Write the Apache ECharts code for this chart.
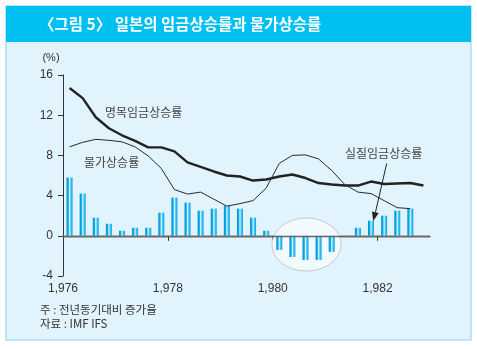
<!DOCTYPE html>
<html>
<head>
<meta charset="utf-8">
<script src="https://cdn.jsdelivr.net/npm/echarts@6/dist/echarts.min.js"></script>
<style>
html,body{margin:0;padding:0;background:#fff;}
#c{width:477px;height:349px;}
</style>
</head>
<body>
<div id="c"></div>
<script>
// Quarter mid-points (years)
const periods = [1976.125,1976.375,1976.625,1976.875,1977.125,1977.375,1977.625,1977.875,
  1978.125,1978.375,1978.625,1978.875,1979.125,1979.375,1979.625,1979.875,
  1980.125,1980.375,1980.625,1980.875,1981.125,1981.375,1981.625,1981.875,
  1982.125,1982.375,1982.625,1982.875];
// 명목임금상승률 (%)
const nominalWage = [14.7,13.7,11.8,10.7,10.0,9.45,8.8,8.8,8.4,7.3,6.85,6.4,6.0,5.9,5.5,5.6,
  5.9,6.1,5.75,5.25,5.1,5.0,5.0,5.4,5.15,5.2,5.25,5.0];
// 물가상승률 (%)
const priceInflation = [8.85,9.3,9.6,9.5,9.35,8.85,7.95,6.7,4.6,4.15,4.35,3.65,2.95,3.2,3.5,4.75,
  7.2,8.0,8.05,7.65,6.5,5.1,4.35,4.2,3.5,2.8,2.7];
// 실질임금상승률 (%)
const realWage = [5.8,4.2,1.8,1.2,0.5,0.8,0.8,2.3,3.8,3.3,2.5,2.7,3.0,2.7,1.8,0.5,
  -1.4,-2.1,-2.4,-2.4,-1.6,0,0.8,1.5,2.0,2.5,2.7];
const xTickYears = [1976,1978,1980,1982];
const yTicks = [-4,0,4,8,12,16];

const FONT = '"Liberation Sans","Noto Sans CJK KR",sans-serif';
const KFONT = '"Noto Sans CJK KR",sans-serif';

const chart = echarts.init(document.getElementById('c'), null, {renderer:'canvas'});

const barGrad = new echarts.graphic.LinearGradient(0,0,1,0,[
  {offset:0,color:'#0090d8'},
  {offset:0.3,color:'#0cb0ec'},
  {offset:0.5,color:'#e0f6ff'},
  {offset:0.7,color:'#4cc8f2'},
  {offset:1,color:'#00a2e4'}
]);

const option = {
  backgroundColor:'#ffffff',
  animation:false,
  grid:{left:63,top:75,width:367,height:201},
  xAxis:{
    type:'value', min:1976, max:1983, interval:1,
    axisLine:{show:true,lineStyle:{color:'#555',width:1.3}},
    axisTick:{show:true,length:5,customValues:xTickYears,lineStyle:{color:'#333'}},
    axisLabel:{customValues:xTickYears,margin:7,color:'#333',fontSize:12,fontFamily:FONT},
    splitLine:{show:false}
  },
  yAxis:{
    type:'value', min:yTicks[0], max:yTicks[yTicks.length-1], interval:4,
    axisLine:{show:true,lineStyle:{color:'#333',width:1}},
    axisTick:{show:true,length:5,lineStyle:{color:'#333'}},
    axisLabel:{margin:10,color:'#333',fontSize:12,fontFamily:FONT},
    splitLine:{show:false}
  },
  series:[
    {
      type:'bar', name:'실질임금상승률',
      data: realWage.map((v,i)=>[periods[i], v]),
      barWidth:6, z:3,
      itemStyle:{color:barGrad},
      markLine:{
        silent:true, symbol:['none','none'],
        label:{show:false},
        lineStyle:{color:'#666',width:1.3,type:'solid'},
        data:[{yAxis:0}]
      }
    },
    {
      type:'line', name:'명목임금상승률',
      data: nominalWage.map((v,i)=>[periods[i], v]),
      symbol:'none', z:4,
      lineStyle:{color:'#222',width:2.4}
    },
    {
      type:'line', name:'물가상승률',
      data: priceInflation.map((v,i)=>[periods[i], v]),
      symbol:'none', z:4,
      lineStyle:{color:'#2a2a2a',width:1}
    }
  ],
  graphic:[
    {type:'rect', z:-10, silent:true, shape:{x:6,y:6,width:465,height:334},
      style:{fill:'#e1f3fc',stroke:'#a6def7',lineWidth:1.5}},
    {type:'rect', z:-9, silent:true, shape:{x:6,y:6,width:465,height:36},
      style:{fill:'#00bff1'}},
    {type:'text', z:5, x:39, y:24, silent:true,
      style:{text:'〈그림 5〉 일본의 임금상승률과 물가상승률', fill:'#ffffff',
        font:'bold 15.5px '+KFONT, verticalAlign:'middle', align:'left'}},
    {type:'ellipse', z:1, silent:true, shape:{cx:306.5,cy:244.5,rx:34.5,ry:26.5},
      style:{fill:'#f2fafe',stroke:'#c4c8ca',lineWidth:1}},
    {type:'text', z:5, x:51, y:58, silent:true,
      style:{text:'(%)', fill:'#333', font:'11px '+FONT, align:'center', verticalAlign:'middle'}},
    {type:'text', z:5, x:105, y:112, silent:true,
      style:{text:'명목임금상승률', fill:'#444', font:'12px '+KFONT, verticalAlign:'middle'}},
    {type:'text', z:5, x:84, y:162, silent:true,
      style:{text:'물가상승률', fill:'#444', font:'12px '+KFONT, verticalAlign:'middle'}},
    {type:'text', z:5, x:345, y:153, silent:true,
      style:{text:'실질임금상승률', fill:'#444', font:'12px '+KFONT, verticalAlign:'middle'}},
    {type:'line', z:5, silent:true, shape:{x1:386.7,y1:163.5,x2:375.5,y2:212},
      style:{stroke:'#222',lineWidth:1}},
    {type:'polygon', z:5, silent:true, shape:{points:[[373.3,221],[378.7,213],[371.9,211.4]]},
      style:{fill:'#222'}},
    {type:'text', z:5, x:40, y:310, silent:true,
      style:{text:'주 : 전년동기대비 증가율', fill:'#333', font:'11.5px '+KFONT, verticalAlign:'middle'}},
    {type:'text', z:5, x:40, y:323.5, silent:true,
      style:{text:'자료 : IMF IFS', fill:'#333', font:'11.5px '+KFONT, verticalAlign:'middle'}}
  ]
};
chart.setOption(option);
</script>
</body>
</html>
